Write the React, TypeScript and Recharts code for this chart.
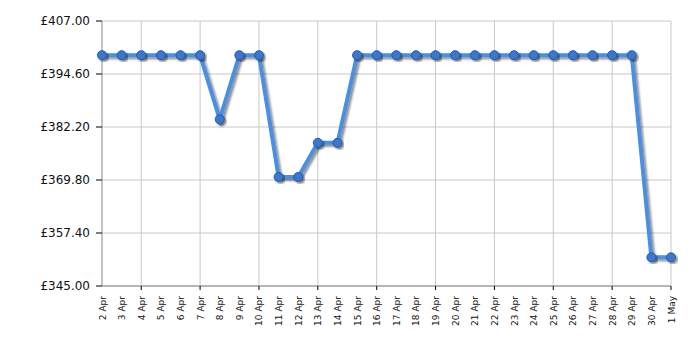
import React from "react"
import { CartesianGrid, Line, LineChart, ReferenceLine, XAxis, YAxis } from "recharts"

const days = [
  "2 Apr", "3 Apr", "4 Apr", "5 Apr", "6 Apr", "7 Apr", "8 Apr", "9 Apr", "10 Apr", "11 Apr",
  "12 Apr", "13 Apr", "14 Apr", "15 Apr", "16 Apr", "17 Apr", "18 Apr", "19 Apr", "20 Apr", "21 Apr",
  "22 Apr", "23 Apr", "24 Apr", "25 Apr", "26 Apr", "27 Apr", "28 Apr", "29 Apr", "30 Apr", "1 May",
]

const prices = [
  399, 399, 399, 399, 399, 399, 384, 399, 399, 370.5,
  370.5, 378.5, 378.5, 399, 399, 399, 399, 399, 399, 399,
  399, 399, 399, 399, 399, 399, 399, 399, 351.7, 351.7,
]

const priceTicks = [345, 357.4, 369.8, 382.2, 394.6, 407]

// vertical grid every third day, starting at 4 Apr
const gridDays = days.filter((_, i) => i % 3 === 2)

const data = days.map((name, i) => ({ name, price: prices[i] }))

const DayTick = (props: any) => {
  const { x, y, payload } = props
  const marked = gridDays.includes(payload.value)
  return (
    <g>
      {marked && <line x1={x} y1={y - 8} x2={x} y2={y - 4} stroke="#000" strokeWidth={1} />}
      <text
        x={x + 3.5}
        y={y + 2}
        transform={`rotate(-90, ${x + 3.5}, ${y + 2})`}
        textAnchor="end"
        fontSize={9}
        fontFamily="DejaVu Sans, Verdana, sans-serif"
        fill="#111"
      >
        {payload.value}
      </text>
    </g>
  )
}

export default function App() {
  return (
    <div style={{ position: "absolute", left: 0, top: 0, background: "#fff" }}>
      <LineChart width={700} height={350} data={data} margin={{ top: 21, right: 29, left: 0, bottom: 0 }}>
        <defs>
          <filter id="shadow" x="-20%" y="-20%" width="140%" height="140%">
            <feDropShadow dx="2" dy="2" stdDeviation="1.2" floodColor="#000" floodOpacity="0.45" />
          </filter>
        </defs>
        <CartesianGrid vertical={false} stroke="#c8c8c8" />
        {gridDays.map((d) => (
          <ReferenceLine key={d} x={d} stroke="#c8c8c8" ifOverflow="visible" />
        ))}
        <XAxis
          dataKey="name"
          interval={0}
          height={64}
          stroke="#888"
          tickLine={false}
          tick={<DayTick />}
        />
        <YAxis
          domain={[345, 407]}
          ticks={priceTicks}
          width={102}
          stroke="#888"
          tickSize={6}
          tickMargin={6}
          tickLine={{ stroke: "#000" }}
          tick={{ fill: "#111", fontSize: 12, fontFamily: "DejaVu Sans, Verdana, sans-serif" }}
          tickFormatter={(v: number) => `£${v.toFixed(2)}`}
        />
        <Line
          type="linear"
          dataKey="price"
          stroke="#4a8fe2"
          strokeWidth={4}
          filter="url(#shadow)"
          dot={{ r: 4.5, fill: "#3a78cc", stroke: "#2458a8", strokeWidth: 1, fillOpacity: 1 }}
          activeDot={false}
          isAnimationActive={false}
        />
      </LineChart>
    </div>
  )
}
